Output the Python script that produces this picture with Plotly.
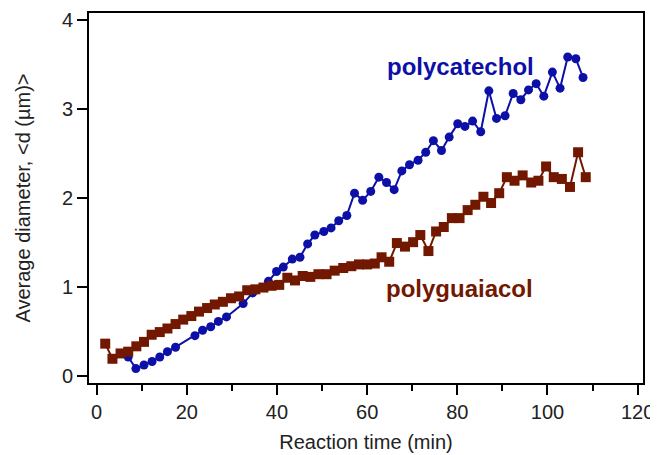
import plotly.graph_objects as go

# polycatechol (blue circles)
cat_t = [7.0, 8.7, 10.5, 12.3, 14.0, 15.7, 17.5, 21.8, 23.5, 25.3, 27.0, 28.8, 32.5, 34.6,
         38.1, 39.9, 41.4, 43.4, 45.1, 46.8, 48.4, 50.4, 52.0, 53.7, 55.5, 57.2, 59.0, 60.8,
         62.6, 64.3, 66.0, 67.7, 69.4, 71.3, 73.0, 74.7, 76.5, 78.2, 80.1, 81.7, 83.4, 85.2,
         87.0, 88.7, 90.6, 92.4, 94.1, 95.8, 97.5, 99.2, 101.1, 102.8, 104.5, 106.3, 107.9]
cat_d = [0.21, 0.08, 0.12, 0.16, 0.21, 0.27, 0.32, 0.45, 0.51, 0.55, 0.61, 0.66, 0.81, 0.93,
         1.06, 1.17, 1.22, 1.31, 1.33, 1.48, 1.58, 1.62, 1.66, 1.74, 1.80, 2.05, 1.97, 2.07,
         2.23, 2.17, 2.09, 2.30, 2.37, 2.42, 2.51, 2.64, 2.53, 2.68, 2.83, 2.80, 2.86, 2.74,
         3.20, 2.89, 2.92, 3.17, 3.10, 3.21, 3.28, 3.14, 3.41, 3.23, 3.58, 3.56, 3.35]

# polyguaiacol (brown squares)
gua_t = [1.9, 3.5, 5.3, 7.0, 8.8, 10.5, 12.2, 14.0, 15.7, 17.5, 19.2, 21.0, 22.7, 24.5,
         26.2, 28.0, 29.8, 31.6, 33.4, 35.2, 37.0, 38.8, 40.5, 42.3, 44.0, 45.7, 47.4, 49.2,
         51.0, 52.8, 54.7, 56.5, 58.2, 60.0, 61.7, 63.2, 64.9, 66.6, 68.4, 70.2, 71.8, 73.6,
         75.3, 77.0, 78.8, 80.5, 82.3, 84.0, 85.8, 87.5, 89.3, 91.0, 92.7, 94.5, 96.4, 98.0,
         99.7, 101.4, 103.2, 105.0, 106.8, 108.5]
gua_d = [0.36, 0.19, 0.25, 0.27, 0.33, 0.38, 0.46, 0.49, 0.53, 0.58, 0.63, 0.67, 0.72, 0.76,
         0.80, 0.83, 0.87, 0.89, 0.96, 0.97, 0.99, 1.01, 1.02, 1.10, 1.07, 1.12, 1.11, 1.14,
         1.14, 1.18, 1.21, 1.23, 1.25, 1.25, 1.26, 1.33, 1.28, 1.49, 1.45, 1.50, 1.58, 1.40,
         1.62, 1.67, 1.77, 1.77, 1.86, 1.92, 2.01, 1.94, 2.05, 2.23, 2.19, 2.25, 2.17, 2.19,
         2.35, 2.23, 2.21, 2.12, 2.51, 2.23]

x_ticks = [0, 20, 40, 60, 80, 100, 120]
y_ticks = [0, 1, 2, 3, 4]

BLUE = "#0c10a6"
BROWN = "#721800"
FONT = "Liberation Sans, Arial, sans-serif"

fig = go.Figure()
fig.add_trace(go.Scatter(x=cat_t, y=cat_d, mode="lines+markers", name="polycatechol",
                         line=dict(color=BLUE, width=2),
                         marker=dict(symbol="circle", size=9, color=BLUE)))
fig.add_trace(go.Scatter(x=gua_t, y=gua_d, mode="lines+markers", name="polyguaiacol",
                         line=dict(color=BROWN, width=2),
                         marker=dict(symbol="square", size=10, color=BROWN)))

fig.add_annotation(x=80.8, y=3.47, text="<b>polycatechol</b>", showarrow=False,
                   font=dict(color=BLUE, size=24, family=FONT))
fig.add_annotation(x=80.6, y=0.975, text="<b>polyguaiacol</b>", showarrow=False,
                   font=dict(color=BROWN, size=24, family=FONT))

# page shows the figure with an 8px body margin, so the figure is 8px smaller
fig.update_layout(
    width=650, height=447,
    margin=dict(l=81, r=15, t=5, b=72, autoexpand=False),
    paper_bgcolor="white", plot_bgcolor="white",
    showlegend=False,
    font=dict(family=FONT, size=20, color="#222"),
)
fig.update_xaxes(range=[-1.7, 121.2], tickvals=x_ticks, ticks="outside", ticklen=10,
                 tickwidth=2, tickcolor="black", showline=True, linewidth=2, linecolor="black",
                 mirror=True, showgrid=False, zeroline=False, automargin=False,
                 minor=dict(dtick=10, tick0=0, ticks="outside", ticklen=6, tickwidth=2,
                            tickcolor="black", showgrid=False),
                 title=dict(text="Reaction time (min)", font=dict(size=20), standoff=13),
                 tickfont=dict(size=20))
fig.update_yaxes(range=[-0.082, 4.074], tickvals=y_ticks, ticks="outside", ticklen=10,
                 tickwidth=2, tickcolor="black", showline=True, linewidth=2, linecolor="black",
                 mirror=True, showgrid=False, zeroline=False, automargin=False,
                 title=dict(text="Average diameter, &lt;d (µm)&gt;", font=dict(size=20), standoff=26),
                 tickfont=dict(size=20))

fig.write_html("out.html")
